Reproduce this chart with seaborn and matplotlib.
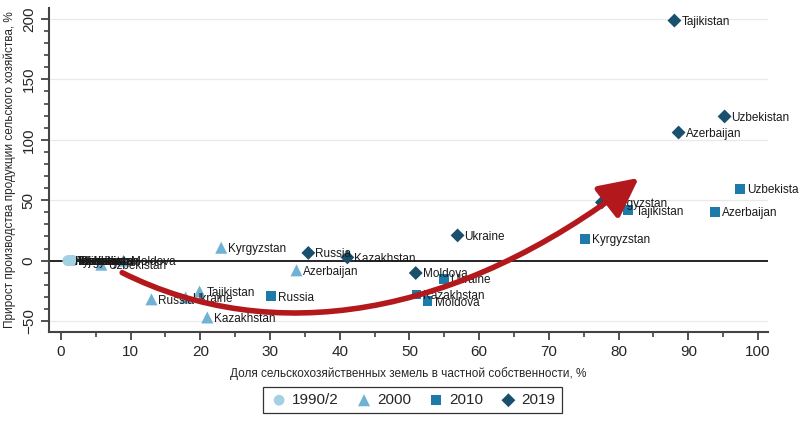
import numpy as np
import pandas as pd
import seaborn as sns
import matplotlib.pyplot as plt
from matplotlib.path import Path
from matplotlib.patches import FancyArrowPatch
from matplotlib.ticker import MultipleLocator

# data: share of private agricultural land (%) vs growth of agri output (%)
c1990 = ['Kyrgyzstan', 'Tajikistan', 'Russia', 'Ukraine', 'Kazakhstan',
         'Azerbaijan', 'Uzbekistan', 'Moldova']
x1990 = [1.0, 1.3, 1.6, 1.8, 1.4, 1.1, 1.7, 1.5]
y1990 = [0, 0, 0, 0, 0, 0, 0, 0]

c2000 = ['Kyrgyzstan', 'Azerbaijan', 'Tajikistan', 'Ukraine', 'Russia',
         'Kazakhstan', 'Uzbekistan', 'Moldova']
x2000 = [23.0, 33.8, 19.9, 17.9, 13.0, 21.0, 5.8, 9.0]
y2000 = [10.7, -8.0, -25.5, -30.5, -32.0, -47.0, -3.3, 0.0]

c2010 = ['Russia', 'Kazakhstan', 'Moldova', 'Ukraine', 'Kyrgyzstan',
         'Tajikistan', 'Azerbaijan', 'Uzbekistan']
x2010 = [30.2, 51.0, 52.6, 54.9, 75.2, 81.4, 93.8, 97.4]
y2010 = [-29.5, -28.0, -33.6, -15.0, 18.2, 41.6, 40.2, 59.3]

c2019 = ['Russia', 'Kazakhstan', 'Ukraine', 'Moldova', 'Kyrgyzstan',
         'Tajikistan', 'Uzbekistan', 'Azerbaijan']
x2019 = [35.5, 41.1, 56.9, 50.9, 77.6, 88.0, 95.2, 88.6]
y2019 = [6.4, 2.7, 20.9, -10.2, 48.2, 198.6, 119.3, 106.0]

years = ['1990/2', '2000', '2010', '2019']
colors = ['#a3d0e3', '#6fb2d3', '#1c7ba8', '#19506e']
markers = ['o', '^', 's', 'D']
msizes = [60, 75, 50, 50]

# trend arrow (cubic bezier, data coords)
arrow_pts = [(8.8, -9.9), (30.3, -71.9), (56.8, -47.9), (82.9, 68.5)]

series = [(c1990, x1990, y1990), (c2000, x2000, y2000),
          (c2010, x2010, y2010), (c2019, x2019, y2019)]

sns.set_style('white')
plt.rcParams['font.family'] = ['Liberation Sans', 'DejaVu Sans']

fig, ax = plt.subplots(figsize=(7.99, 4.21), dpi=100)
fig.subplots_adjust(left=0.0613, right=0.961, bottom=0.2114, top=0.981)

for yr, col, mk, ms, (cs, xs, ys) in zip(years, colors, markers, msizes, series):
    df = pd.DataFrame({'x': xs, 'y': ys, 'country': cs})
    sns.scatterplot(data=df, x='x', y='y', marker=mk, color=col, s=ms,
                    edgecolor='none', linewidth=0, ax=ax, label=yr, zorder=3)
    for _, r in df.iterrows():
        ax.annotate(r['country'], (r['x'], r['y']), xytext=(5, -1),
                    textcoords='offset points', va='center', ha='left',
                    fontsize=8.5, color='#1a1a1a', zorder=4)

ax.axhline(0, color='black', lw=1.2, zorder=1)
for g in [-50, 50, 100, 150, 200]:
    ax.axhline(g, color='#e9e9e9', lw=0.9, zorder=0)

path = Path(arrow_pts, [Path.MOVETO, Path.CURVE4, Path.CURVE4, Path.CURVE4])
arrow = FancyArrowPatch(path=path, arrowstyle='-|>,head_length=1.5,head_width=0.75',
                        mutation_scale=16, color='#b3191c', lw=4, zorder=5)
ax.add_patch(arrow)

ax.set_xlim(-1.7, 101.4)
ax.set_ylim(-59, 209)
ax.xaxis.set_major_locator(MultipleLocator(10))
ax.xaxis.set_minor_locator(MultipleLocator(5))
ax.yaxis.set_major_locator(MultipleLocator(50))
ax.yaxis.set_minor_locator(MultipleLocator(10))
ax.tick_params(axis='both', which='major', direction='out', length=6, width=1.2,
               color='#333333', labelsize=11, left=True, bottom=True)
ax.tick_params(axis='both', which='minor', direction='out', length=3.5, width=1.1,
               color='#333333', left=True, bottom=True)
for lab in ax.get_yticklabels():
    lab.set_rotation(90)
    lab.set_va('center')

for s in ['top', 'right']:
    ax.spines[s].set_visible(False)
for s in ['left', 'bottom']:
    ax.spines[s].set_color('#444444')
    ax.spines[s].set_linewidth(1.5)

ax.set_xlabel('Доля сельскохозяйственных земель в частной собственности, %',
              fontsize=8.5, labelpad=6)
ax.set_ylabel('Прирост производства продукции сельского хозяйства, %',
              fontsize=8.5, labelpad=4)

leg = ax.legend(loc='lower center', bbox_to_anchor=(0.516, 0.0),
                bbox_transform=fig.transFigure, ncol=4, frameon=True,
                fancybox=False, edgecolor='black', fontsize=11,
                handletextpad=0.2, columnspacing=1.0, borderpad=0.4,
                handlelength=1.3, markerscale=1.0)
leg.get_frame().set_linewidth(0.9)

fig.savefig('out.png', dpi=100)
